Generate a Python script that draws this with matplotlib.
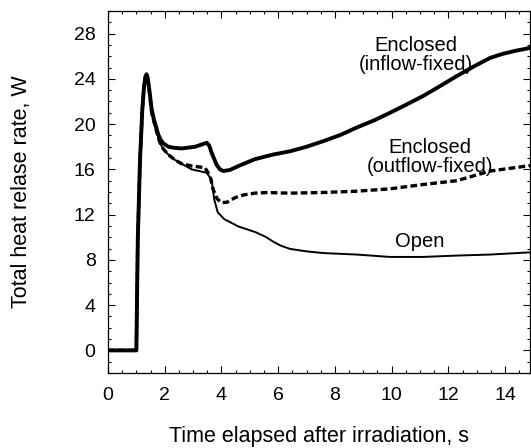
import matplotlib
matplotlib.use("Agg")
import matplotlib.pyplot as plt
from matplotlib.ticker import MultipleLocator

plt.rcParams['font.family'] = ['Liberation Sans', 'DejaVu Sans']

# Time (s) and total heat release rate (W) for each case
t_inflow = [0, 1.0, 1.05, 1.13, 1.21, 1.27, 1.32, 1.36, 1.40, 1.46, 1.54, 1.62, 1.69, 1.77, 1.86, 1.95, 2.13,
            2.35, 2.6, 3.07, 3.48, 3.57, 3.65, 3.83, 3.95, 4.07, 4.3, 4.6, 5.18, 5.8, 6.42, 7.0, 7.6, 8.2,
            8.77, 9.4, 9.94, 10.5, 11.12, 11.7, 12.3, 12.9, 13.47, 13.9, 14.4, 14.92]
q_inflow = [0, 0, 9.8, 16.9, 21.3, 23.3, 24.2, 24.4, 24.1, 23.0, 21.3, 20.4, 19.8, 19.1, 18.6, 18.3, 18.0,
            17.9, 17.85, 18.0, 18.35, 18.1, 17.5, 16.4, 16.0, 15.85, 15.95, 16.3, 16.9, 17.3, 17.6, 18.0, 18.5, 19.05,
            19.7, 20.35, 21.0, 21.7, 22.5, 23.35, 24.25, 25.1, 25.85, 26.2, 26.5, 26.75]

t_outflow = [0, 1.0, 1.05, 1.13, 1.21, 1.27, 1.32, 1.36, 1.40, 1.46, 1.54, 1.62, 1.69, 1.77, 1.86, 1.95, 2.13,
             2.35, 2.6, 2.95, 3.42, 3.6, 3.71, 3.85, 4.0, 4.2, 4.48, 4.8, 5.18, 5.6, 6.42, 7.5, 8.77, 9.94,
             11.1, 12.3, 13.47, 14.92]
q_outflow = [0, 0, 9.8, 16.9, 21.3, 23.3, 24.2, 24.4, 24.0, 22.8, 21.0, 20.2, 19.6, 18.8, 18.2, 17.8, 17.3,
             16.85, 16.5, 16.3, 16.15, 15.4, 14.2, 13.4, 13.05, 13.1, 13.5, 13.75, 13.9, 13.95, 13.9, 13.95, 14.07, 14.28,
             14.66, 15.0, 15.85, 16.35]

t_open = [0, 1.0, 1.05, 1.13, 1.21, 1.27, 1.32, 1.36, 1.40, 1.46, 1.54, 1.62, 1.69, 1.77, 1.86, 1.95, 2.13,
          2.35, 2.6, 2.95, 3.48, 3.65, 3.75, 3.87, 4.1, 4.6, 5.2, 5.55, 5.83, 6.1, 6.42, 7.0, 7.6, 8.77, 9.94,
          11.1, 12.3, 13.47, 14.92]
q_open = [0, 0, 9.8, 16.9, 21.3, 23.3, 24.2, 24.4, 24.0, 22.8, 21.0, 20.2, 19.6, 18.8, 18.2, 17.8, 17.3,
          16.85, 16.5, 16.0, 15.7, 15.1, 13.3, 12.2, 11.6, 10.95, 10.45, 10.05, 9.6, 9.25, 8.97, 8.75, 8.6, 8.47, 8.26,
          8.26, 8.38, 8.47, 8.67]

fig = plt.figure(figsize=(5.31, 4.48), dpi=100)
ax = fig.add_axes([108 / 531, 1 - 373 / 448, (530 - 108) / 531, (373 - 11) / 448])

ax.plot(t_inflow, q_inflow, color='black', lw=2.8, solid_joinstyle='round', solid_capstyle='round')
ax.plot(t_outflow, q_outflow, color='black', lw=2.4, ls=(0, (2.0, 1.0)))
ax.plot(t_open, q_open, color='black', lw=1.4, solid_joinstyle='round')

ax.set_xlim(0, 14.88)
ax.set_ylim(-2, 30)
ax.xaxis.set_major_locator(MultipleLocator(2))
ax.xaxis.set_minor_locator(MultipleLocator(0.5))
ax.yaxis.set_major_locator(MultipleLocator(4))
ax.yaxis.set_minor_locator(MultipleLocator(1))
ax.tick_params(which='both', direction='in', top=True, right=True, labelsize=14, width=0.8)
ax.tick_params(which='major', length=5)
ax.tick_params(axis='x', which='major', pad=10)
ax.tick_params(axis='y', which='major', pad=9)
ax.tick_params(which='minor', length=2.5)
for s in ax.spines.values():
    s.set_linewidth(0.9)

ax.set_xlabel('Time elapsed after irradiation, s', fontsize=15.5, labelpad=16)
ax.set_ylabel('Total heat relase rate, W', fontsize=15.5, labelpad=30)

ax.text(10.85, 26.1, 'Enclosed\n(inflow-fixed)', ha='center', va='center', fontsize=14.5, linespacing=1.05)
ax.text(11.35, 17.1, 'Enclosed\n(outflow-fixed)', ha='center', va='center', fontsize=14.5, linespacing=1.05)
ax.text(11.0, 9.6, 'Open', ha='center', va='center', fontsize=14.5)

fig.savefig('out.png', dpi=100)
